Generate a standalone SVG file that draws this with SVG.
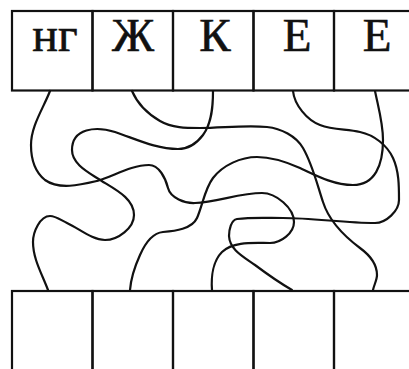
<svg xmlns="http://www.w3.org/2000/svg" width="409" height="369" viewBox="0 0 409 369">
<style>
.box{fill:none;stroke:#111;stroke-width:2.2}
.wire{fill:none;stroke:#111;stroke-width:2.2;stroke-linecap:round;stroke-linejoin:round}
.lbl{font-family:"Liberation Serif","DejaVu Serif",serif;font-size:47px;fill:#111;stroke:#111;stroke-width:0.6;text-anchor:middle}
</style>
<rect width="409" height="369" fill="#fff"/>
<g id="top-1"><rect class="box" x="12" y="11" width="80.5" height="79.5"/><text class="lbl" x="55" y="51" style="font-size:48px">нг</text></g>
<g id="top-2"><rect class="box" x="92.5" y="11" width="80.5" height="79.5"/><text class="lbl" x="133" y="51">Ж</text></g>
<g id="top-3"><rect class="box" x="173" y="11" width="80.5" height="79.5"/><text class="lbl" x="215" y="51">К</text></g>
<g id="top-4"><rect class="box" x="253.5" y="11" width="80.5" height="79.5"/><text class="lbl" x="297" y="51">Е</text></g>
<g id="top-5"><rect class="box" x="334" y="11" width="80.5" height="79.5"/><text class="lbl" x="377" y="51">Е</text></g>
<g id="bottom-1"><rect class="box" x="12" y="291" width="80.5" height="90"/></g>
<g id="bottom-2"><rect class="box" x="92.5" y="291" width="80.5" height="90"/></g>
<g id="bottom-3"><rect class="box" x="173" y="291" width="80.5" height="90"/></g>
<g id="bottom-4"><rect class="box" x="253.5" y="291" width="80.5" height="90"/></g>
<g id="bottom-5"><rect class="box" x="334" y="291" width="80.5" height="90"/></g>
<g id="connectors">
<path id="w-ng" class="wire" d="M50,91 C43,109 31,126 31,145 C31,158 35,172 45,180 C59,190 80,185 97,181 C114,176 131,165 149,165 C159,165 165.5,178 168,188 C170.5,198 185,203.5 195,203 C217,202 240,193 262,193 C276,193 294,208 294,222 C294,233 281,243 270,243 C254,243 233,241 222,252 C213,261 211,277 212,290"/>
<path id="w-zh" class="wire" d="M132,91 C137.6,104 148,114 160,121 C172,128 186,128 200,128 C222,128 245,125 267,127 C281,128.4 296,136 303,148 C312.5,164.5 317,184 323,202 C329,221 344,236 360,248 C369,254.6 377,264 377,275 C377,280 374,285 373,290"/>
<path id="w-k" class="wire" d="M213,91 C213,106 212,123 203,135 C197,143 188,149 178,149 C156,149 136,139 115,132 C96,126 72,128 72,150 C72,163 86,171 97,178 C112,188 134,197 134,215 C134,228 118,240 105,240 C92,240 80,229 67,223 C61.6,220.6 56,216 50,216 C40,216 33,232 33,242 C33,259 42,274 48,290"/>
<path id="w-e1" class="wire" d="M293,91 C294.4,105 307,120 320,125 C333,130 346,129 360,132 C374,135 387,145 393,158 C399,171 399,186 399,200 C399,211 386,223 375,223 C344,223 314,218 283,218 C268,218 252,217 237,219 C231,220 229,230 229,236 C229.7,250 244,257 255,265 C267,274 279,282.5 292,290"/>
<path id="w-e2" class="wire" d="M375,91 C378.4,107.7 383,123 383,140 C383,165 375,185 353,185 C334,185 317,176 300,168 C286.5,162 272,157 257,157 C241,157 223,165 213,178 C204.6,189 202.6,205.4 197,218 C192,229 175,231 163,232 C152,233 144.4,245 140,255 C135,266 131,278 130,290"/>
</g>
</svg>
